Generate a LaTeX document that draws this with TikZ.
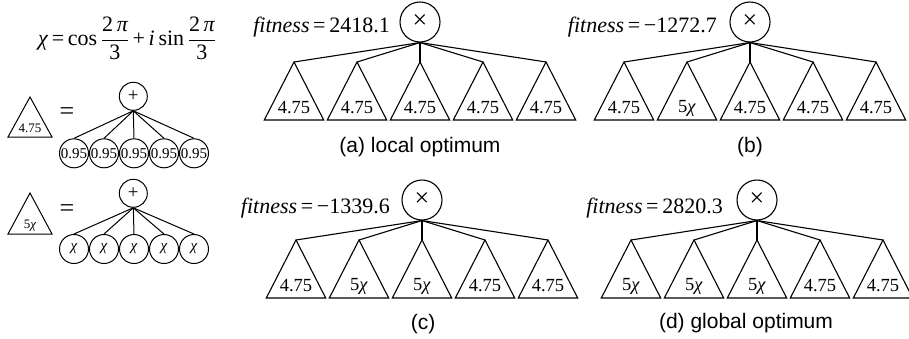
\documentclass[tikz,border=0pt]{standalone}
\usepackage{fontspec}
\setmainfont{Liberation Serif}
\newfontfamily\capfont{Liberation Sans}
\newcommand\fitnesstext[1]{\textit{fitness}\,=\,#1}
\newcommand\drawpanel[4]{%
  \node[opnode] (#1root) at (#2, 22+#3) {×};
  \foreach \lab [count=\k] in {#4} {
    \pgfmathsetmacro\ax{#2+(\k-3)*63}
    \coordinate (#1apex\k) at (\ax, 62+#3);
    \coordinate (#1bl\k) at (\ax-29.7, 120+#3);
    \coordinate (#1br\k) at (\ax+29.7, 120+#3);
    \draw[tribox] (#1bl\k) -- (#1apex\k) -- (#1br\k) -- cycle;
    \node[trilabel] (#1lab\k) at (\ax, 108+#3) {\lab};
    \draw[edge] (#1root.south) -- (#1apex\k);
  }
}
\begin{document}
\begin{tikzpicture}[x=1pt,y=-1pt,
  opnode/.style={circle, draw, line width=1.1pt, minimum size=40pt, inner sep=0pt, font=\fontsize{26}{26}\selectfont},
  plusnode/.style={circle, draw, line width=1pt, minimum size=28pt, inner sep=0pt, font=\fontsize{19}{19}\selectfont},
  leafnode/.style={circle, draw, line width=1pt, minimum size=29pt, inner sep=0pt, font=\fontsize{15}{15}\selectfont},
  tribox/.style={draw, line width=1.1pt, line join=miter},
  trilabel/.style={inner sep=0pt, font=\fontsize{18.5}{19}\selectfont},
  smalllabel/.style={inner sep=0pt, font=\fontsize{13}{13}\selectfont},
  edge/.style={line width=1.1pt},
  fitlabel/.style={anchor=east, inner sep=0pt, font=\fontsize{22}{24}\selectfont},
  captionlabel/.style={inner sep=0pt, font=\capfont\fontsize{21}{22}\selectfont},
  eqsign/.style={inner sep=0pt, font=\fontsize{26}{26}\selectfont}
]
\useasboundingbox (0,0) rectangle (909,338);

% formula
\node[inner sep=0pt, font=\fontsize{22}{24}\selectfont] (formula) at (127,38)
  {\textit{χ}\,=\,cos\,$\displaystyle\frac{\hbox{2\,\itshape π}}{\hbox{3}}$\,+\,\textit{i}\,sin\,$\displaystyle\frac{\hbox{2\,\itshape π}}{\hbox{3}}$};

% definition of 4.75 triangle
\coordinate (t1apex) at (30,97);
\coordinate (t1bl) at (8,137);
\coordinate (t1br) at (52,137);
\draw[tribox, line width=1pt] (t1bl) -- (t1apex) -- (t1br) -- cycle;
\node[smalllabel] (t1lab) at (30,128) {4.75};
\node[eqsign] (eq1) at (67,114) {=};
\node[plusnode] (p1) at (133.3,96.3) {+};
\foreach \i in {1,...,5} {
  \node[leafnode] (c1\i) at ({44+30*\i},153.3) {0.95};
  \draw[line width=1pt] (p1.south) -- (c1\i.north);
}

% definition of 5chi triangle
\coordinate (t2apex) at (30,193);
\coordinate (t2bl) at (8,234);
\coordinate (t2br) at (52,234);
\draw[tribox, line width=1pt] (t2bl) -- (t2apex) -- (t2br) -- cycle;
\node[smalllabel] (t2lab) at (30,226) {5\textit{χ}};
\node[eqsign] (eq2) at (67,211) {=};
\node[plusnode] (p2) at (133.3,193.3) {+};
\foreach \i in {1,...,5} {
  \node[leafnode] (c2\i) at ({44+30*\i},249) {\textit{χ}};
  \draw[line width=1pt] (p2.south) -- (c2\i.north);
}

% panels
\drawpanel{a}{420}{0}{4.75,4.75,4.75,4.75,4.75}
\drawpanel{b}{750}{0}{4.75,{5\textit{χ}},4.75,4.75,4.75}
\drawpanel{c}{422}{178}{4.75,{5\textit{χ}},{5\textit{χ}},4.75,4.75}
\drawpanel{d}{757}{178}{{5\textit{χ}},{5\textit{χ}},{5\textit{χ}},4.75,4.75}

\node[fitlabel] (fa) at (390,27) {\fitnesstext{2418.1}};
\node[fitlabel] (fb) at (717,27) {\fitnesstext{−1272.7}};
\node[fitlabel] (fc) at (390,208) {\fitnesstext{−1339.6}};
\node[fitlabel] (fd) at (723,208) {\fitnesstext{2820.3}};

\node[captionlabel] (capa) at (420,147) {(a) local optimum};
\node[captionlabel] (capb) at (750,147) {(b)};
\node[captionlabel] (capc) at (423,324) {(c)};
\node[captionlabel] (capd) at (746,323) {(d) global optimum};
\end{tikzpicture}
\end{document}
